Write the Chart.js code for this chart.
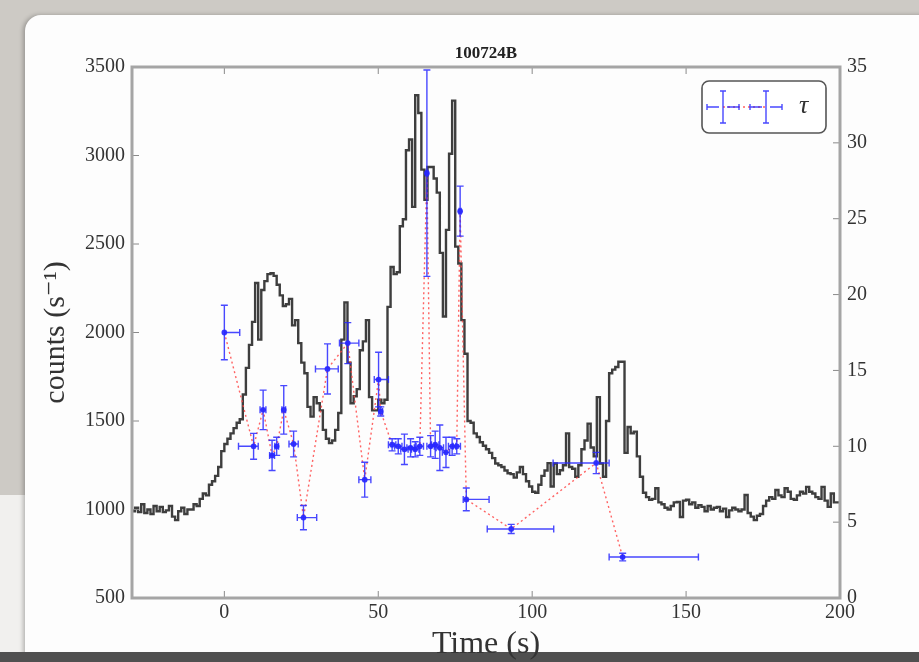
<!DOCTYPE html>
<html>
<head>
<meta charset="utf-8">
<script src="https://cdn.jsdelivr.net/npm/chart.js@4.4.0/dist/chart.umd.min.js"></script>
<style>
  html, body { margin: 0; padding: 0; }
  body { width: 919px; height: 662px; overflow: hidden; position: relative; background: #cdcac5; }
  #under { position: absolute; left: 0; top: 495px; width: 60px; height: 170px; background: #f1f0ee; }
  #paper { position: absolute; left: 25px; top: 15px; width: 960px; height: 660px; background: #fdfdfd;
           border-radius: 16px 0 0 0; box-shadow: -2px 0 4px rgba(0,0,0,0.25); }
  #edge { position: absolute; left: 0; top: 652px; width: 919px; height: 10px; background: #505050; }
  #wrap { position: absolute; left: 0; top: 0; width: 919px; height: 662px; }
  canvas { filter: blur(0.5px); }
</style>
</head>
<body>
<div id="under"></div>
<div id="paper"></div>
<div id="edge"></div>
<div id="wrap"><canvas id="chart" width="919" height="662"></canvas></div>
<script>
// light curve: counts per 1 s bin, starting at -30 s
var lcStart = -30;
var lcBin = 1;
var lcCounts = [
  1000, 990, 1010, 985, 1030, 980, 1000, 975, 1020, 990, 1015, 985, 995, 1020, 960, 940, 990, 1010, 975, 1000,
  1000, 1030, 1020, 1060, 1090, 1080, 1140, 1160, 1190, 1240,
  1330, 1370, 1400, 1430, 1460, 1490, 1510, 1650, 1800, 1930, 2060, 2280, 1960, 2240, 2290, 2330, 2335, 2320, 2270, 2210, 2150,
  2160, 2190, 2040, 2070, 1940, 1830, 1770, 1580, 1525, 1635, 1600, 1560, 1450, 1400, 1375, 1390, 1450, 1545, 1960, 2170,
  1830, 1600, 1640, 1680, 1900, 1950, 2070, 1635, 1560, 1560, 1620, 1600, 1620, 2145, 2370,
  2330, 2340, 2600, 2640, 3030, 3090, 2710, 3340, 3240, 2920, 2750, 2935, 2935, 2870, 2790, 2450, 2090, 2580, 3010, 3310,
  2485, 2390, 2070, 1880, 1500,
  1490, 1430, 1410, 1380, 1360, 1340, 1320, 1290, 1260, 1250, 1240, 1220, 1205, 1200, 1180, 1210, 1240, 1200, 1160, 1130,
  1100, 1095, 1140, 1190, 1220, 1262, 1130, 1260, 1200, 1222, 1250, 1430, 1240, 1230, 1185, 1250, 1340, 1390, 1485, 1350,
  1300, 1635, 1260, 1185, 1500, 1770, 1790, 1805, 1835, 1835, 1320, 1466, 1430, 1440, 1300, 1185, 1095, 1070, 1055, 1060,
  1120, 1040, 1030, 1010, 1000, 1020, 1040, 1042, 958, 1050, 1055, 1030, 1040, 1010, 1025, 1015, 990, 1020, 1000, 1010,
  1015, 990, 1005, 958, 995, 1010, 1000, 990, 1000, 1082, 980, 960, 940, 965, 975, 1020, 1050, 1070, 1060, 1110,
  1080, 1070, 1120, 1100, 1060, 1055, 1080, 1100, 1090, 1128, 1100, 1090, 1070, 1060, 1128, 1050, 1015, 1090, 1040
];

// tau measurements (right axis)
var tauTime   = [0, 9.5, 12.6, 15.5, 17.0, 19.3, 22.5, 25.7, 33.5, 40.1, 45.6, 50.1, 50.8,
                 54.5, 56.5, 58.5, 60.5, 62.0, 63.5, 65.8, 67.0, 68.5, 70.0, 72.0, 74.0, 75.5, 76.6,
                 78.6, 93.2, 120.8, 129.4];
var tauValue  = [17.5, 10.0, 12.4, 9.4, 10.0, 12.4, 10.15, 5.3, 15.1, 16.8, 7.8, 14.4, 12.3,
                 10.1, 10.0, 9.8, 9.9, 9.8, 10.0, 28.0, 10.0, 10.1, 9.9, 9.6, 10.0, 10.0, 25.5,
                 6.5, 4.55, 8.9, 2.7];
var tauErr    = [1.8, 0.85, 1.3, 1.0, 0.6, 1.6, 0.85, 0.8, 1.65, 1.35, 1.15, 1.8, 0.3,
                 0.4, 0.5, 1.0, 0.6, 0.5, 0.6, 6.8, 0.7, 0.9, 1.5, 1.0, 0.6, 0.5, 1.65,
                 0.75, 0.3, 0.7, 0.25];
var tauTimeLo = [0, 4.9, 1.0, 0.8, 0.6, 0.6, 1.5, 2.0, 3.9, 2.7, 1.9, 1.4, 0.6,
                 1.2, 1.2, 1.2, 1.2, 1.2, 1.2, 0.3, 1.2, 1.2, 1.2, 1.2, 1.2, 1.2, 0.3,
                 1.0, 7.8, 14.0, 4.4];
var tauTimeHi = [5.0, 1.5, 0.9, 0.8, 0.6, 0.6, 1.5, 4.3, 3.5, 3.6, 2.0, 3.2, 0.6,
                 1.2, 1.2, 1.2, 1.2, 1.2, 1.2, 0.3, 1.2, 1.2, 1.2, 1.2, 1.2, 1.2, 0.3,
                 7.4, 13.8, 4.2, 24.6];

var timeTicks = [0, 50, 100, 150, 200];
var blue = "rgba(40,40,255,0.85)";
var red = "rgba(255,70,70,0.85)";
var serif = "'Liberation Serif', 'DejaVu Serif', serif";

var lcPoints = [];
for (var i = 0; i < lcCounts.length; i++) {
    lcPoints.push({x: lcStart + i * lcBin, y: lcCounts[i]});
}
lcPoints.push({x: lcStart + lcCounts.length * lcBin, y: lcCounts[lcCounts.length - 1]});

var tauPoints = tauTime.map(function(t, i) { return {x: t, y: tauValue[i]}; });

function plainTick(value) { return String(value); }

//frame, inward ticks, error bars and legend box
var extras = {
    id: 'extras',
    afterDatasetsDraw: function(chart) {
        var ctx = chart.ctx, a = chart.chartArea;
        var xs = chart.scales.x, ys = chart.scales.y2;
        ctx.save();
        ctx.beginPath();
        ctx.rect(a.left, a.top, a.right - a.left, a.bottom - a.top);
        ctx.clip();
        ctx.strokeStyle = blue;
        ctx.lineWidth = 1.4;
        var cap = 3.5;
        tauTime.forEach(function(t, i) {
            var px = xs.getPixelForValue(t), py = ys.getPixelForValue(tauValue[i]);
            var x0 = xs.getPixelForValue(t - tauTimeLo[i]), x1 = xs.getPixelForValue(t + tauTimeHi[i]);
            var y0 = ys.getPixelForValue(tauValue[i] - tauErr[i]), y1 = ys.getPixelForValue(tauValue[i] + tauErr[i]);
            ctx.beginPath();
            ctx.moveTo(x0, py); ctx.lineTo(x1, py);
            ctx.moveTo(px, y0); ctx.lineTo(px, y1);
            ctx.moveTo(x0, py - cap); ctx.lineTo(x0, py + cap);
            ctx.moveTo(x1, py - cap); ctx.lineTo(x1, py + cap);
            ctx.moveTo(px - cap, y0); ctx.lineTo(px + cap, y0);
            ctx.moveTo(px - cap, y1); ctx.lineTo(px + cap, y1);
            ctx.stroke();
        });
        ctx.restore();
    },
    afterDraw: function(chart) {
        var ctx = chart.ctx, a = chart.chartArea;
        var xs = chart.scales.x, yl = chart.scales.y, yr = chart.scales.y2;
        ctx.save();
        ctx.strokeStyle = "#8a8a8a";
        ctx.lineWidth = 1;
        ctx.beginPath();
        timeTicks.forEach(function(v) {
            var p = xs.getPixelForValue(v);
            ctx.moveTo(p, a.bottom); ctx.lineTo(p, a.bottom - 7);
            ctx.moveTo(p, a.top); ctx.lineTo(p, a.top + 7);
        });
        yl.ticks.forEach(function(t) {
            var p = yl.getPixelForValue(t.value);
            ctx.moveTo(a.left, p); ctx.lineTo(a.left + 7, p);
        });
        yr.ticks.forEach(function(t) {
            var p = yr.getPixelForValue(t.value);
            ctx.moveTo(a.right, p); ctx.lineTo(a.right - 7, p);
        });
        ctx.stroke();
        ctx.strokeStyle = "#a5a5a5";
        ctx.lineWidth = 3;
        ctx.strokeRect(a.left, a.top, a.right - a.left, a.bottom - a.top);

        // legend
        var lx = a.right - 138, ly = a.top + 14, lw = 124, lh = 52;
        ctx.fillStyle = "#ffffff";
        ctx.strokeStyle = "#555";
        ctx.lineWidth = 1.6;
        ctx.beginPath();
        ctx.roundRect(lx, ly, lw, lh, 7);
        ctx.fill();
        ctx.stroke();
        var cy = ly + lh / 2, c1 = lx + 21, c2 = lx + 64;
        ctx.strokeStyle = red;
        ctx.setLineDash([2, 3]);
        ctx.beginPath(); ctx.moveTo(c1, cy); ctx.lineTo(c2, cy); ctx.stroke();
        ctx.setLineDash([]);
        ctx.strokeStyle = blue;
        ctx.lineWidth = 1.4;
        [c1, c2].forEach(function(c) {
            ctx.beginPath();
            ctx.moveTo(c - 16, cy); ctx.lineTo(c - 4, cy);
            ctx.moveTo(c + 4, cy); ctx.lineTo(c + 16, cy);
            ctx.moveTo(c, cy - 16); ctx.lineTo(c, cy + 16);
            ctx.moveTo(c - 16, cy - 3); ctx.lineTo(c - 16, cy + 3);
            ctx.moveTo(c + 16, cy - 3); ctx.lineTo(c + 16, cy + 3);
            ctx.moveTo(c - 3, cy - 16); ctx.lineTo(c + 3, cy - 16);
            ctx.moveTo(c - 3, cy + 16); ctx.lineTo(c + 3, cy + 16);
            ctx.stroke();
        });
        ctx.fillStyle = "#333";
        ctx.font = "italic 26px " + serif;
        ctx.textBaseline = "middle";
        ctx.fillText("τ", lx + 97, cy - 1);
        ctx.restore();
    }
};

var ctx = document.getElementById("chart").getContext("2d");
var lcChart = new Chart(ctx, {
    type: 'line',
    data: {
        datasets: [
            {
                label: 'τ',
                data: tauPoints,
                yAxisID: 'y2',
                borderColor: red,
                borderWidth: 1.4,
                borderDash: [2, 3],
                pointRadius: 2.2,
                pointBackgroundColor: blue,
                pointBorderColor: blue,
                fill: false,
                tension: 0
            },
            {
                label: 'counts',
                data: lcPoints,
                yAxisID: 'y',
                stepped: 'after',
                borderColor: "#3e3e3e",
                borderWidth: 2.4,
                pointRadius: 0,
                fill: false
            }
        ]
    },
    options: {
        responsive: false,
        animation: false,
        layout: { padding: 0 },
        plugins: {
            legend: { display: false },
            tooltip: { enabled: false },
            title: {
                display: true,
                text: '100724B',
                fullSize: false,
                color: '#222',
                font: { family: serif, size: 17, weight: 'bold', lineHeight: 1.2 },
                padding: { top: 43, bottom: 3.6 }
            }
        },
        scales: {
            x: {
                type: 'linear',
                min: -30,
                max: 200,
                afterFit: function(s) { s.height = 64; },
                afterBuildTicks: function(s) { s.ticks = timeTicks.map(function(v) { return {value: v}; }); },
                grid: { display: false, drawTicks: false },
                border: { display: false },
                ticks: { color: '#333', padding: 3, font: { family: serif, size: 20 }, maxRotation: 0, callback: plainTick },
                title: { display: true, text: 'Time (s)', color: '#333', padding: { top: 0, bottom: -2 },
                         font: { family: serif, size: 32, lineHeight: 1.2 } }
            },
            y: {
                position: 'left',
                min: 500,
                max: 3500,
                afterFit: function(s) { s.width = 132; },
                grid: { display: false, drawTicks: false },
                border: { display: false },
                ticks: { stepSize: 500, color: '#333', padding: 7, font: { family: serif, size: 20 }, callback: plainTick },
                title: { display: true, text: 'counts (s⁻¹)', color: '#333', padding: { top: 38, bottom: 0 },
                         font: { family: serif, size: 30, lineHeight: 1.2 } }
            },
            y2: {
                position: 'right',
                min: 0,
                max: 35,
                afterFit: function(s) { s.width = 79; },
                grid: { display: false, drawTicks: false },
                border: { display: false },
                ticks: { stepSize: 5, color: '#333', padding: 7, font: { family: serif, size: 20 }, callback: plainTick }
            }
        }
    },
    plugins: [extras]
});
</script>
</body>
</html>
